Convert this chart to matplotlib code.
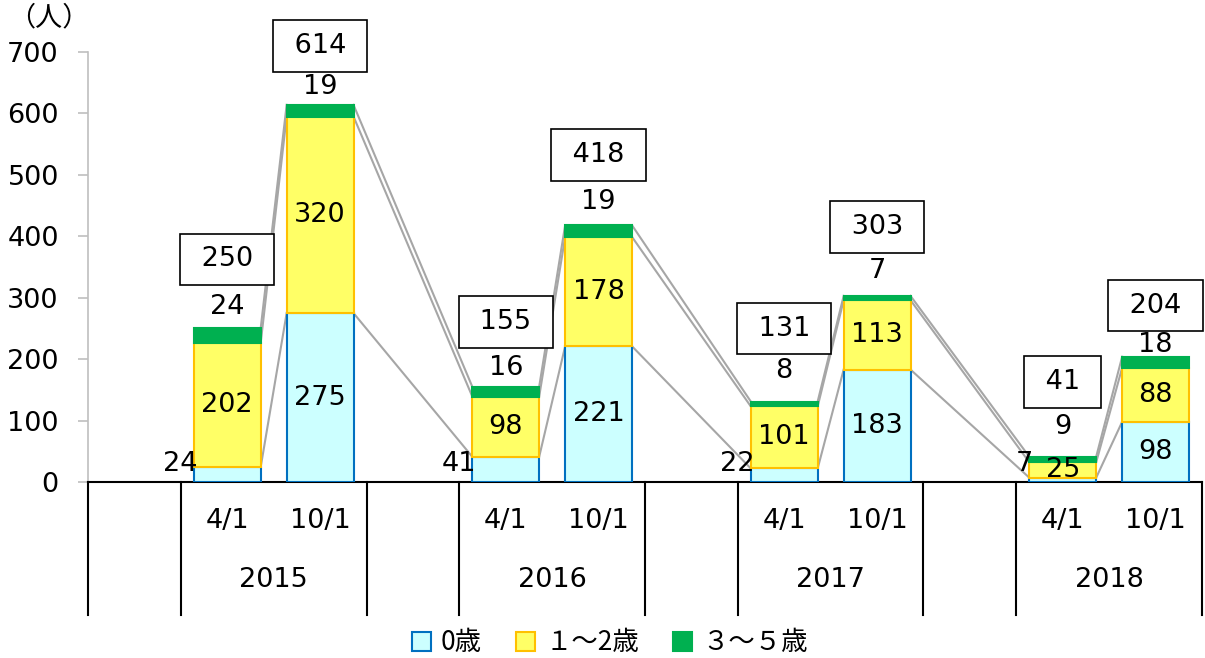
import numpy as np
import matplotlib.pyplot as plt
from matplotlib.patches import Patch
import matplotlib.transforms as mtransforms

plt.rcParams['font.family'] = ['DejaVu Sans', 'Noto Sans CJK JP']

# データ
years = ['2015', '2016', '2017', '2018']
dates = ['4/1', '10/1']
age0 = [24, 275, 41, 221, 22, 183, 7, 98]
age12 = [202, 320, 98, 178, 101, 113, 25, 88]
age35 = [24, 19, 16, 19, 8, 7, 9, 18]
series_names = ['0歳', '１～2歳', '３～５歳']
yticks = [0, 100, 200, 300, 400, 500, 600, 700]

face_colors = ['#CCFFFF', '#FFFF66', '#00B050']
edge_colors = ['#0070C0', '#FFC000', '#00B050']

# ラベルの位置調整 (ピクセル)
lbl35_dy = [21, 18, 19, 23, 31, 25, 30, 12]
box_dy = [69, 59, 65, 70, 73, 69, 75, 51]

# 棒の位置 (各年の前に空きスロット)
x = np.array([3 * g + 1 + s for g in range(len(years)) for s in range(len(dates))])
w = 0.72
a0 = np.array(age0)
a12 = np.array(age12)
a35 = np.array(age35)
tops = [a0, a0 + a12, a0 + a12 + a35]
totals = a0 + a12 + a35

fig = plt.figure(figsize=(12.05, 6.58), dpi=100)
ax = fig.add_axes([88 / 1205, 1 - 482 / 658, 1114 / 1205, 430 / 658])

bottoms = [np.zeros(len(x)), a0, a0 + a12]
for vals, btm, fc, ec, name in zip([a0, a12, a35], bottoms, face_colors, edge_colors, series_names):
    ax.bar(x, vals, width=w, bottom=btm, color=fc, edgecolor=ec, linewidth=1.5, label=name, zorder=3)

# 系列線
for i in range(len(x) - 1):
    for lvl in tops:
        ax.plot([x[i] + w / 2, x[i + 1] - w / 2], [lvl[i], lvl[i + 1]],
                color='#A6A6A6', lw=1.5, zorder=2)

fs = 19.5
for i in range(len(x)):
    # 0歳
    if i % 2 == 0:
        ax.text(x[i] - w / 2 + 0.04, 30, str(age0[i]), ha='right', va='center', fontsize=fs, zorder=5)
    else:
        ax.text(x[i], age0[i] / 2, str(age0[i]), ha='center', va='center', fontsize=fs, zorder=5)
    # 1～2歳
    ax.text(x[i], age0[i] + age12[i] / 2, str(age12[i]), ha='center', va='center', fontsize=fs, zorder=5)
    # 3～5歳
    ax.annotate(str(age35[i]), (x[i], totals[i]), xytext=(0, lbl35_dy[i]), textcoords='offset pixels',
                ha='center', va='center', fontsize=fs, zorder=5)

# 合計 (枠付き)
for i in range(len(x)):
    ax.annotate(' %d ' % totals[i], (x[i], totals[i]), xytext=(0, box_dy[i]), textcoords='offset pixels',
                ha='center', va='center', fontsize=fs, zorder=5,
                bbox=dict(boxstyle='square,pad=0.47', fc='white', ec='black', lw=1.2))

ax.set_xlim(-0.5, 11.5)
ax.set_ylim(0, 700)
ax.set_yticks(yticks)
ax.set_xticks([])
ax.tick_params(axis='y', labelsize=fs, length=7, width=1.2, color='#BFBFBF', pad=14)
for s in ['top', 'right']:
    ax.spines[s].set_visible(False)
ax.spines['left'].set_color('#BFBFBF')
ax.spines['left'].set_linewidth(1.2)
ax.spines['bottom'].set_color('black')
ax.spines['bottom'].set_linewidth(1.5)

# 多階層の項目軸
trans = mtransforms.blended_transform_factory(ax.transData, ax.transAxes)
seps = [-0.5, 0.5, 2.5, 3.5, 5.5, 6.5, 8.5, 9.5, 11.5]
for sx in seps:
    ax.plot([sx, sx], [0, -0.31], color='black', lw=1.5, transform=trans, clip_on=False)
for i in range(len(x)):
    ax.text(x[i], -0.09, dates[i % 2], ha='center', va='center', fontsize=fs, transform=trans)
for g, yr in enumerate(years):
    ax.text(3 * g + 1.5, -0.228, yr, ha='center', va='center', fontsize=fs, transform=trans)

fig.text(8 / 1205, 1 - 18 / 658, '（人）', ha='left', va='center', fontsize=fs)

handles = [Patch(facecolor=fc, edgecolor=ec, linewidth=1.5) for fc, ec in zip(face_colors, edge_colors)]
fig.legend(handles, series_names, loc='center', bbox_to_anchor=(610 / 1205, 1 - 643 / 658), ncol=3,
           frameon=False, prop={'family': 'Noto Sans CJK JP', 'size': 19},
           handlelength=0.7, handleheight=0.7, handletextpad=0.4, columnspacing=1.3)

plt.savefig('out.png', dpi=100)
